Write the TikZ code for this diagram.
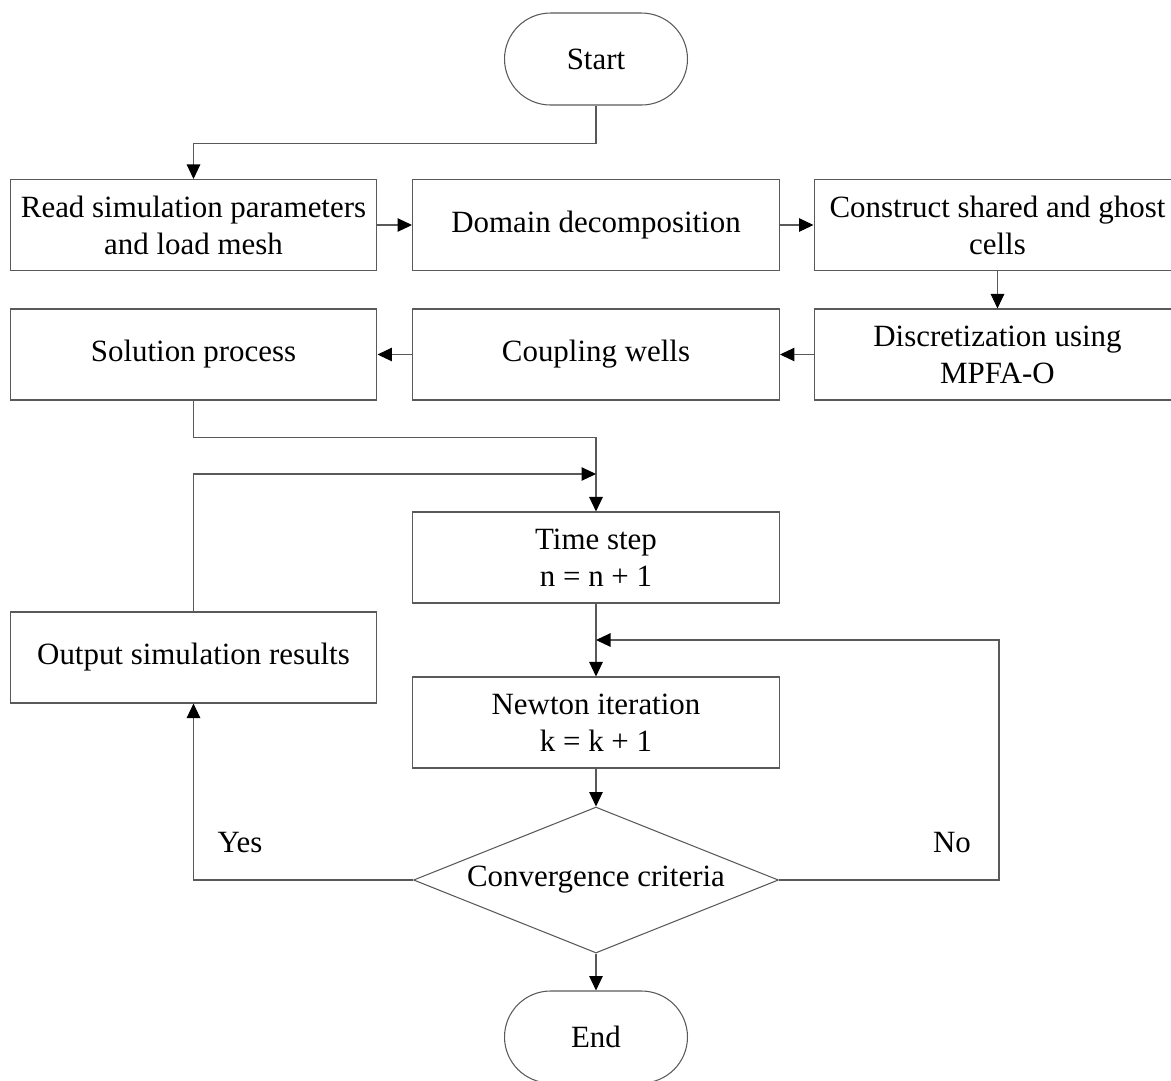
\documentclass[tikz,border=0pt]{standalone}
\usepackage{fontspec}
\setmainfont{Liberation Serif}
\usepackage{tikz}
\usetikzlibrary{shapes.geometric, shapes.misc, arrows.meta, calc}

\begin{document}
\begin{tikzpicture}[x=0.02cm, y=-0.02cm,
           every node/.style={font=\fontsize{17.6}{21}\selectfont},
           process/.style={draw=black!65, line width=0.6pt, align=center,
              minimum width=7.34cm, minimum height=1.82cm, inner sep=0pt},
           terminal/.style={draw=black!65, line width=0.6pt, rounded rectangle,
              minimum width=3.66cm, minimum height=1.84cm, inner sep=0pt},
           decision/.style={draw=black!65, line width=0.6pt, diamond, aspect=2.5,
              minimum width=7.3cm, minimum height=2.92cm, inner sep=0pt},
           connections/.style={-{Triangle[length=2.9mm,width=2.7mm,black]}, draw=black!65, line width=0.6pt},
        ]
        \useasboundingbox (0,0) rectangle (1171,1080);

        \node[draw] at (596,59) (start) [terminal] {Start};
        \node[draw] at (193.5,225) (read) [process] {Read simulation parameters\\and load mesh};
        \node[draw] at (596,225) (domain) [process] {Domain decomposition};
        \node[draw] at (997.5,225) (construct) [process] {Construct shared and ghost\\cells};
        \node[draw] at (997.5,354.5) (discret) [process] {Discretization using\\MPFA-O};
        \node[draw] at (596,354.5) (coupling) [process] {Coupling wells};
        \node[draw] at (193.5,354.5) (solution) [process] {Solution process};
        \node[draw] at (596,557.5) (timestep) [process] {Time step\\n = n + 1};
        \node[draw] at (193.5,657.5) (output) [process] {Output simulation results};
        \node[draw] at (596,722.5) (newton) [process] {Newton iteration\\k = k + 1};
        \node[draw] at (596,880) (converge) [decision] {Convergence criteria};
        \node[draw] at (596,1037) (finish) [terminal] {End};
        \node at (240,843) (yes) {Yes};
        \node at (952,843) (no) {No};

        \coordinate (join) at (596,474);
        \coordinate (back) at (596,640);

        \draw[connections] (start.south) -- ++(0,38) -| (read.north);
        \draw[connections] (read.east) -- (domain.west);
        \draw[connections] (domain.east) -- (construct.west);
        \draw[connections] (construct.south) -- (discret.north);
        \draw[connections] (discret.west) -- (coupling.east);
        \draw[connections] (coupling.west) -- (solution.east);
        \draw[connections] (solution.south) -- ++(0,37) -| (timestep.north);
        \draw[connections] (output.north) |- (join);
        \draw[connections] (timestep.south) -- (newton.north);
        \draw[connections] (newton.south) -- (converge.north);
        \draw[connections] (converge.east) -- ++(220,0) |- (back);
        \draw[connections] (converge.west) -| (output.south);
        \draw[connections] (converge.south) -- (finish.north);
     \end{tikzpicture}
\end{document}
